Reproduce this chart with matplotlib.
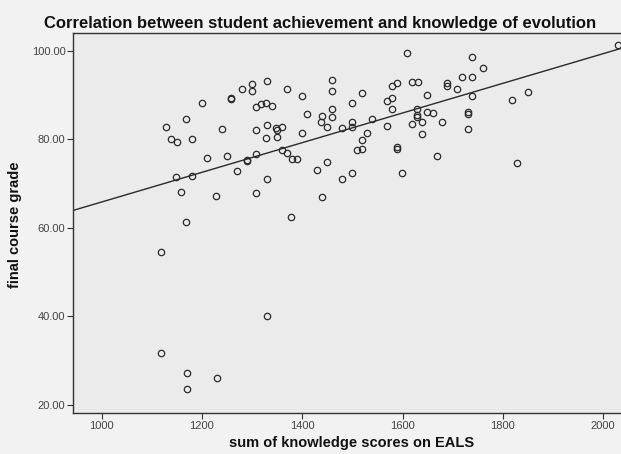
import matplotlib
matplotlib.use("Agg")
import matplotlib.pyplot as plt
import numpy as np

plt.rcParams['font.family'] = ['Liberation Sans', 'DejaVu Sans']

# EALS knowledge score sums (x) and final course grades (y)
eals_scores = [
    1329.0, 1299.1, 1299.1, 1279.2, 1368.9, 1398.8, 1258.8, 1258.8, 1199.4, 1308.3,
    1317.6, 1327.6, 1339.0, 1169.1, 1128.2, 1239.3, 1308.7, 1329.0, 1348.2, 1349.0,
    1359.5, 1328.2, 1349.0, 1138.2, 1149.6, 1179.5, 1209.4, 1249.3, 1289.1, 1290.7,
    1308.7, 1359.5, 1369.5, 1380.5, 1389.4, 1269.2, 1329.0, 1148.6, 1179.5, 1158.1,
    1228.9, 1308.7, 1438.7, 1378.5, 1168.7, 1118.2, 1329.0, 1118.2, 1169.5, 1229.3,
    1169.5, 1459.2, 1459.2, 1459.2, 1459.2, 1438.7, 1437.3, 1448.7, 1408.8, 1398.8,
    1478.6, 1499.5, 1499.5, 1499.5, 1519.6, 1608.6, 1589.4, 1578.7, 1618.7, 1630.1,
    1689.1, 1689.1, 1568.3, 1579.5, 1579.5, 1649.3, 1539.6, 1568.7, 1529.6, 1519.6,
    1510.1, 1519.6, 1448.7, 1428.7, 1499.1, 1479.2, 1589.4, 1589.4, 1599.4, 1669.2,
    1628.1, 1628.1, 1629.7, 1648.7, 1660.0, 1639.7, 1619.1, 1679.6, 1639.3, 1739.0,
    1759.7, 1719.0, 1739.0, 1709.1, 1739.4, 1819.1, 1849.4, 1729.8, 1729.8, 1729.8,
    1829.1, 2029.5,
]
course_grades = [
    93.27, 92.37, 91.01, 91.24, 91.42, 89.77, 89.43, 89.03, 88.19, 87.29,
    87.96, 88.08, 87.56, 84.65, 82.70, 82.36, 81.98, 83.11, 82.55, 81.98,
    82.82, 80.22, 80.58, 79.99, 79.43, 80.06, 75.70, 76.29, 75.32, 75.09,
    76.74, 77.58, 76.79, 75.48, 75.48, 72.72, 70.96, 71.37, 71.75, 68.16,
    67.26, 67.76, 67.01, 62.49, 61.25, 54.48, 40.10, 31.81, 27.29, 26.03,
    23.61, 93.32, 90.83, 86.79, 85.10, 85.26, 83.97, 82.84, 85.66, 81.48,
    82.59, 83.95, 82.66, 88.30, 90.52, 99.41, 92.75, 91.92, 92.93, 92.93,
    92.82, 91.92, 88.53, 89.32, 86.88, 90.00, 84.62, 82.95, 81.35, 79.84,
    77.47, 77.80, 74.94, 72.99, 72.32, 71.10, 78.14, 77.85, 72.32, 76.22,
    86.88, 85.48, 85.14, 86.23, 85.87, 84.01, 83.45, 83.97, 81.24, 98.69,
    96.16, 94.17, 94.02, 91.46, 89.77, 88.87, 90.74, 86.23, 85.71, 82.39,
    74.71, 101.29,
]

# Linear fit line: grade = intercept + slope * score
fit_intercept = 32.33
fit_slope = 0.0335

x_ticks = [1000, 1200, 1400, 1600, 1800, 2000]
y_ticks = [20, 40, 60, 80, 100]

title_text = "Correlation between student achievement and knowledge of evolution"
x_label = "sum of knowledge scores on EALS"
y_label = "final course grade"

fig = plt.figure(figsize=(6.21, 4.54), dpi=100, facecolor='#f2f2f2')
ax = fig.add_axes([0.1176, 0.0896, 0.898, 0.8377], facecolor='#ebebeb')

xlim = (943, 2055)
ylim = (18.1, 104.0)
ax.set_xlim(*xlim)
ax.set_ylim(*ylim)

# regression line across the full x range
xs = np.array(xlim)
ax.plot(xs, fit_intercept + fit_slope * xs, color='#2a2a2a', lw=1.0, zorder=2)

ax.plot(eals_scores, course_grades, linestyle='none', marker='o', ms=4.6,
        mfc='none', mec='#2a2a2a', mew=0.9, zorder=3)

ax.set_xticks(x_ticks)
ax.set_xticklabels([str(t) for t in x_ticks])
ax.set_yticks(y_ticks)
ax.set_yticklabels([f"{t:.2f}" for t in y_ticks])
ax.tick_params(axis='both', direction='out', length=4, width=0.8,
               labelsize=8, labelcolor='#444444', color='#333333', pad=1.5)

for side in ['left', 'bottom', 'top', 'right']:
    ax.spines[side].set_color('#333333')
    ax.spines[side].set_linewidth(1.0)

fig.text(320 / 621, 1 - 28 / 454, title_text, ha='center', va='baseline',
         fontsize=12, fontweight='bold', color='#111111')
fig.text(352 / 621, 1 - 443 / 454, x_label, ha='center', va='center',
         fontsize=10.5, fontweight='bold', color='#111111')
fig.text(15 / 621, 1 - 225 / 454, y_label, ha='center', va='center',
         rotation=90, fontsize=10.5, fontweight='bold', color='#111111')

fig.savefig("out.png", dpi=100, facecolor=fig.get_facecolor())
